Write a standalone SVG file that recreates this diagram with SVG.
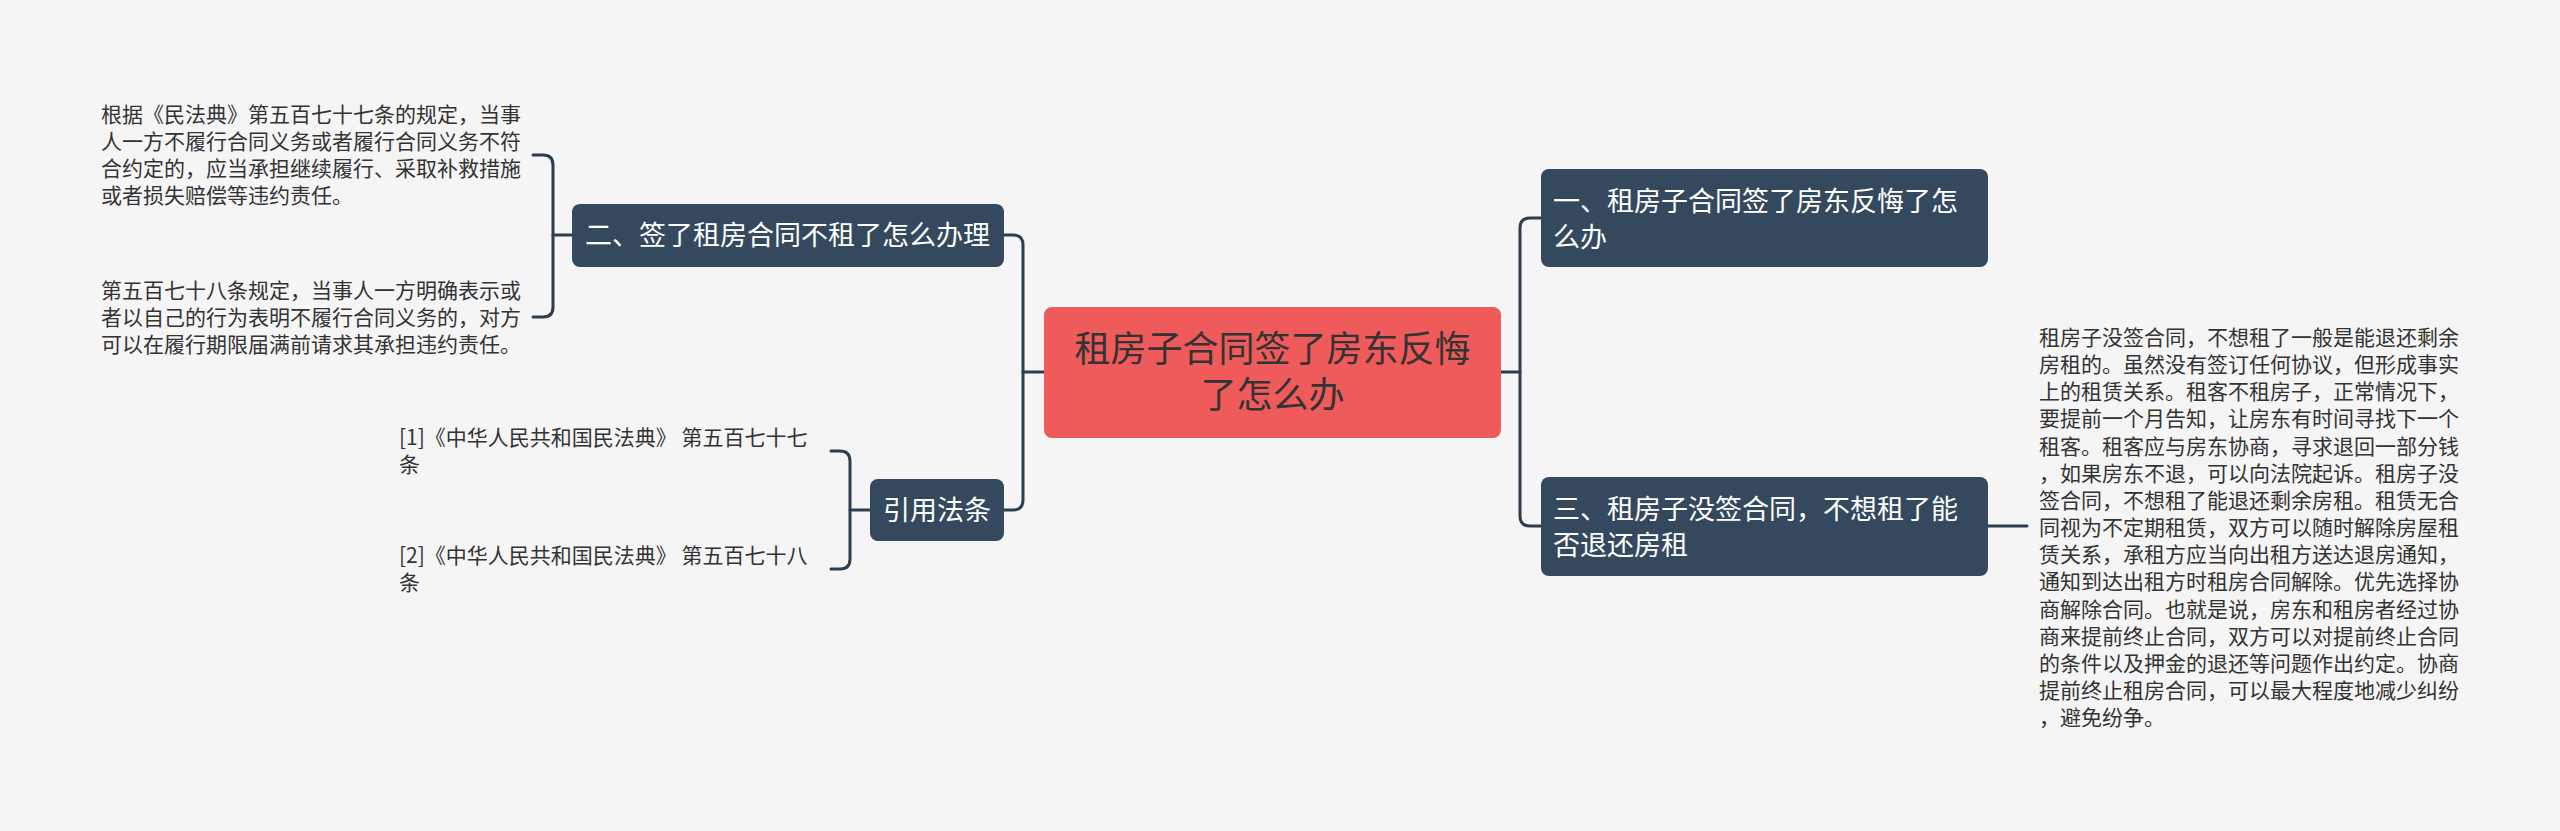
<svg xmlns="http://www.w3.org/2000/svg" width="2560" height="831" viewBox="0 0 2560 831">
<style>
.bg{fill:#f5f5f5}
.node{fill:#34495e}
.root{fill:#ef5a5a}
.nt{font-family:"Noto Sans CJK SC","Noto Sans",sans-serif;font-size:27px;fill:#ffffff}
.rt{font-family:"Noto Sans CJK SC","Noto Sans",sans-serif;font-size:36px;fill:#333333;text-anchor:middle}
.lt{font-family:"Noto Sans CJK SC","Noto Sans",sans-serif;font-size:21px;fill:#333333}
.con{fill:none;stroke:#2d3e50;stroke-width:3;stroke-linecap:round}
</style>
<rect class="bg" x="0" y="0" width="2560" height="831"/>
<g id="connectors">
<path class="con" d="M1501 372 H1520"/>
<path class="con" d="M1541 218 H1530 Q1520 218 1520 228 V516 Q1520 526 1530 526 H1541"/>
<path class="con" d="M1044 372 H1023"/>
<path class="con" d="M1004 235 H1013 Q1023 235 1023 245 V500 Q1023 510 1013 510 H1004"/>
<path class="con" d="M572 235 H553"/>
<path class="con" d="M533 155 H543 Q553 155 553 165 V307 Q553 317 543 317 H533"/>
<path class="con" d="M870 510 H850"/>
<path class="con" d="M831 451 H840 Q850 451 850 461 V559 Q850 569 840 569 H831"/>
<path class="con" d="M1988 526 H2027"/>
</g>
<g id="root">
<rect class="root" x="1044" y="307" width="457" height="131" rx="8"/>
<text class="rt" x="1272.5" y="362">租房子合同签了房东反悔</text>
<text class="rt" x="1272.5" y="408">了怎么办</text>
</g>
<g id="n1">
<rect class="node" x="1541" y="169" width="447" height="98" rx="8"/>
<text class="nt" x="1553" y="211">一、租房子合同签了房东反悔了怎</text>
<text class="nt" x="1553" y="247">么办</text>
</g>
<g id="n3">
<rect class="node" x="1541" y="477" width="447" height="99" rx="8"/>
<text class="nt" x="1553" y="519">三、租房子没签合同，不想租了能</text>
<text class="nt" x="1553" y="555">否退还房租</text>
</g>
<g id="n2">
<rect class="node" x="572" y="204" width="432" height="63" rx="8"/>
<text class="nt" x="585" y="245">二、签了租房合同不租了怎么办理</text>
</g>
<g id="nref">
<rect class="node" x="870" y="479" width="134" height="62" rx="8"/>
<text class="nt" x="883" y="520">引用法条</text>
</g>
<g id="t1">
<text class="lt" x="101" y="122">根据《民法典》第五百七十七条的规定，当事</text>
<text class="lt" x="101" y="149">人一方不履行合同义务或者履行合同义务不符</text>
<text class="lt" x="101" y="176">合约定的，应当承担继续履行、采取补救措施</text>
<text class="lt" x="101" y="203">或者损失赔偿等违约责任。</text>
</g>
<g id="t2">
<text class="lt" x="101" y="298">第五百七十八条规定，当事人一方明确表示或</text>
<text class="lt" x="101" y="325">者以自己的行为表明不履行合同义务的，对方</text>
<text class="lt" x="101" y="352">可以在履行期限届满前请求其承担违约责任。</text>
</g>
<g id="ref1">
<text class="lt" x="399" y="445">[1]《中华人民共和国民法典》 第五百七十七</text>
<text class="lt" x="399" y="472">条</text>
</g>
<g id="ref2">
<text class="lt" x="399" y="563">[2]《中华人民共和国民法典》 第五百七十八</text>
<text class="lt" x="399" y="590">条</text>
</g>
<g id="t3">
<text class="lt" x="2039" y="345">租房子没签合同，不想租了一般是能退还剩余</text>
<text class="lt" x="2039" y="372">房租的。虽然没有签订任何协议，但形成事实</text>
<text class="lt" x="2039" y="399">上的租赁关系。租客不租房子，正常情况下，</text>
<text class="lt" x="2039" y="426">要提前一个月告知，让房东有时间寻找下一个</text>
<text class="lt" x="2039" y="454">租客。租客应与房东协商，寻求退回一部分钱</text>
<text class="lt" x="2039" y="481">，如果房东不退，可以向法院起诉。租房子没</text>
<text class="lt" x="2039" y="508">签合同，不想租了能退还剩余房租。租赁无合</text>
<text class="lt" x="2039" y="535">同视为不定期租赁，双方可以随时解除房屋租</text>
<text class="lt" x="2039" y="562">赁关系，承租方应当向出租方送达退房通知，</text>
<text class="lt" x="2039" y="589">通知到达出租方时租房合同解除。优先选择协</text>
<text class="lt" x="2039" y="617">商解除合同。也就是说，房东和租房者经过协</text>
<text class="lt" x="2039" y="644">商来提前终止合同，双方可以对提前终止合同</text>
<text class="lt" x="2039" y="671">的条件以及押金的退还等问题作出约定。协商</text>
<text class="lt" x="2039" y="698">提前终止租房合同，可以最大程度地减少纠纷</text>
<text class="lt" x="2039" y="725">，避免纷争。</text>
</g>
</svg>
